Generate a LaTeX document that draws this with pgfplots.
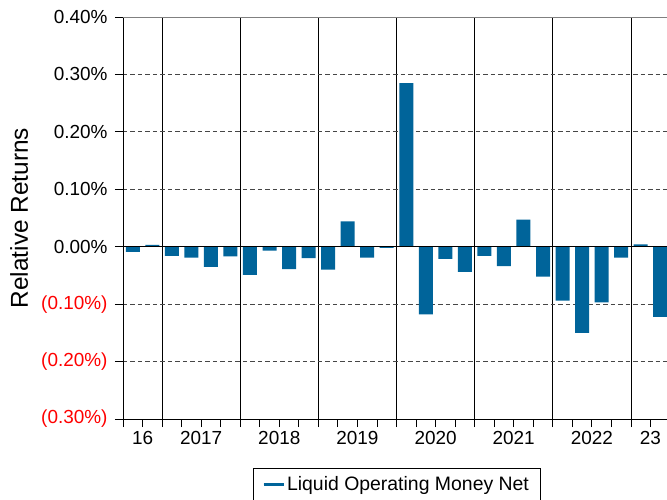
\documentclass[border=0pt]{standalone}
\usepackage{pgfplots}
\pgfplotsset{compat=1.18}
\usepackage{fontspec}
\setmainfont{Liberation Sans}
\definecolor{barblue}{RGB}{0,100,154}
\definecolor{gridgray}{RGB}{70,70,70}
\begin{document}
\begin{tikzpicture}
\begin{axis}[
  at={(0,0)}, anchor=south west,
  scale only axis,
  width=547bp, height=402bp,
  xmin=0, xmax=28,
  ymin=-0.30, ymax=0.40,
  axis x line*=bottom, axis y line*=left,
  axis line style={black, line width=0.8bp},
  /pgf/number format/assume math mode=true,
  tick align=outside,
  major tick length=8bp,
  tick style={black, line width=0.8bp},
  xtick={0,1,...,28},
  xticklabels={},
  extra x ticks={1,4,8,12,16,20,24,27},
  extra x tick labels={16,2017,2018,2019,2020,2021,2022,23},
  extra x tick style={major tick length=0pt, ticklabel style={yshift=-9bp}},
  minor xtick={2,6,10,14,18,22,26},
  minor tick length=0pt,
  xminorgrids=true,
  minor grid style={black, solid, line width=0.8bp},
  ytick={-0.3,-0.2,-0.1,0,0.1,0.2,0.3,0.4},
  yticklabels={\textcolor{red}{(0.30\%)},\textcolor{red}{(0.20\%)},\textcolor{red}{(0.10\%)},0.00\%,0.10\%,0.20\%,0.30\%,0.40\%},
  yticklabel style={xshift=-4bp},
  ymajorgrids=true,
  major grid style={gridgray, dash pattern=on 4.5bp off 3bp, line width=0.8bp},
  tick label style={font=\fontsize{19}{22}\selectfont, text=black},
  ylabel={Relative Returns},
  ylabel style={at={(axis description cs:-0.19,0.5)}, anchor=center, font=\fontsize{24.5}{28}\selectfont},
  legend style={at={(0.5,-0.122)}, anchor=north, draw=black, line width=0.8bp, font=\fontsize{19.5}{23}\selectfont, inner xsep=9bp, inner ysep=6bp},
  legend cell align=left,
]
\addplot[ybar, bar width=14bp, bar shift=0pt, fill=barblue, draw=none,
  legend image code/.code={\draw[barblue, line width=3bp] (0bp,0bp) -- (20bp,0bp);}]
  coordinates {
  (0.5,-0.009) (1.5,0.003)
  (2.5,-0.016) (3.5,-0.019) (4.5,-0.035) (5.5,-0.017)
  (6.5,-0.049) (7.5,-0.007) (8.5,-0.039) (9.5,-0.020)
  (10.5,-0.040) (11.5,0.044) (12.5,-0.019) (13.5,-0.002)
  (14.5,0.285) (15.5,-0.118) (16.5,-0.021) (17.5,-0.044)
  (18.5,-0.016) (19.5,-0.034) (20.5,0.047) (21.5,-0.052)
  (22.5,-0.094) (23.5,-0.150) (24.5,-0.097) (25.5,-0.019)
  (26.5,0.004) (27.5,-0.122)
  };
\addlegendentry{Liquid Operating Money Net}
\draw[black, line width=1bp] (axis cs:0,0) -- (axis cs:28,0);
\draw[gray, line width=1bp] (rel axis cs:0,1) -- (rel axis cs:1,1);
\end{axis}
\pgfresetboundingbox
\useasboundingbox (-123bp,-81bp) rectangle (544bp,419bp);
\end{tikzpicture}
\end{document}
